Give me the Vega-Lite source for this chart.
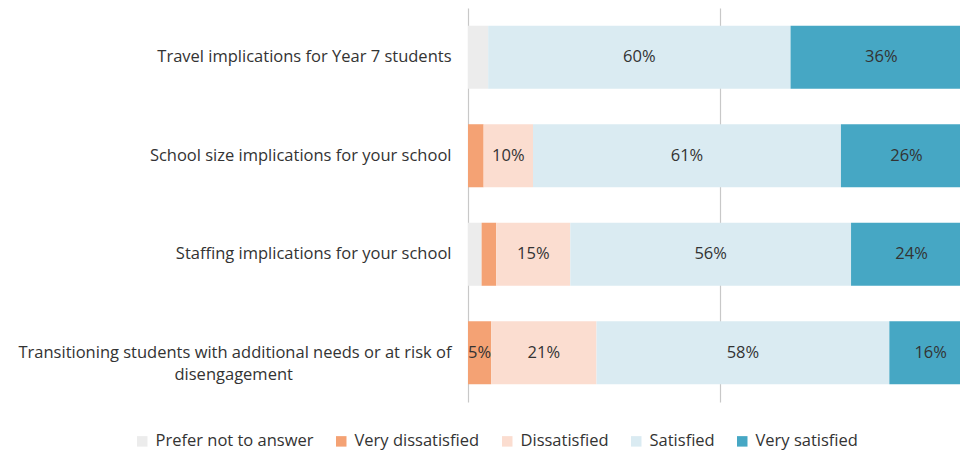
{
  "$schema": "https://vega.github.io/schema/vega-lite/v6.json",
  "autosize": "none",
  "width": 492,
  "height": 394,
  "padding": {"left": 468, "top": 8, "right": 0, "bottom": 51},
  "background": "white",
  "config": {
    "view": {"stroke": null},
    "font": "Open Sans",
    "text": {"font": "Open Sans"}
  },
  "data": {
    "values": [
      {"item": "Travel implications for Year 7 students", "response": "Prefer not to answer", "value": 0.04},
      {"item": "Travel implications for Year 7 students", "response": "Satisfied", "value": 0.60},
      {"item": "Travel implications for Year 7 students", "response": "Very satisfied", "value": 0.36},
      {"item": "School size implications for your school", "response": "Very dissatisfied", "value": 0.031},
      {"item": "School size implications for your school", "response": "Dissatisfied", "value": 0.098},
      {"item": "School size implications for your school", "response": "Satisfied", "value": 0.611},
      {"item": "School size implications for your school", "response": "Very satisfied", "value": 0.26},
      {"item": "Staffing implications for your school", "response": "Prefer not to answer", "value": 0.027},
      {"item": "Staffing implications for your school", "response": "Very dissatisfied", "value": 0.029},
      {"item": "Staffing implications for your school", "response": "Dissatisfied", "value": 0.147},
      {"item": "Staffing implications for your school", "response": "Satisfied", "value": 0.557},
      {"item": "Staffing implications for your school", "response": "Very satisfied", "value": 0.24},
      {"item": "Transitioning students with additional needs or at risk of disengagement", "response": "Very dissatisfied", "value": 0.046},
      {"item": "Transitioning students with additional needs or at risk of disengagement", "response": "Dissatisfied", "value": 0.209},
      {"item": "Transitioning students with additional needs or at risk of disengagement", "response": "Satisfied", "value": 0.581},
      {"item": "Transitioning students with additional needs or at risk of disengagement", "response": "Very satisfied", "value": 0.164}
    ]
  },
  "transform": [
    {"calculate": "indexof(['Prefer not to answer','Very dissatisfied','Dissatisfied','Satisfied','Very satisfied'], datum.response)", "as": "rank"},
    {"stack": "value", "groupby": ["item"], "sort": [{"field": "rank", "order": "ascending"}], "as": ["x0", "x1"]},
    {"calculate": "(datum.x0 + datum.x1) / 2", "as": "mid"}
  ],
  "encoding": {
    "y": {
      "field": "item",
      "type": "nominal",
      "sort": [
        "Travel implications for Year 7 students",
        "School size implications for your school",
        "Staffing implications for your school",
        "Transitioning students with additional needs or at risk of disengagement"
      ],
      "scale": {"paddingInner": 0.36, "paddingOuter": 0.18},
      "title": null,
      "axis": {
        "domain": false,
        "ticks": false,
        "grid": false,
        "labelPadding": 17,
        "labelFontSize": 16.5,
        "labelFont": "Open Sans",
        "labelColor": "#333333",
        "labelLimit": 0,
        "labelLineHeight": 22,
        "labelExpr": "indexof(datum.label, 'Transitioning') === 0 ? ['Transitioning students with additional needs or at risk of', pad('disengagement', 50, '\u00a0') + '\u200b'] : datum.label"
      }
    }
  },
  "layer": [
    {
      "mark": {"type": "bar", "clip": true},
      "encoding": {
        "x": {
          "field": "x0",
          "type": "quantitative",
          "scale": {"domain": [0, 0.97619], "nice": false, "zero": false},
          "title": null,
          "axis": {
            "values": [0, 0.5],
            "grid": true,
            "gridColor": "#c8c8c8",
            "gridWidth": 1.2,
            "labels": false,
            "ticks": false,
            "domain": false,
            "zindex": 0
          }
        },
        "x2": {"field": "x1"},
        "color": {
          "field": "response",
          "type": "nominal",
          "sort": ["Prefer not to answer", "Very dissatisfied", "Dissatisfied", "Satisfied", "Very satisfied"],
          "scale": {
            "domain": ["Prefer not to answer", "Very dissatisfied", "Dissatisfied", "Satisfied", "Very satisfied"],
            "range": ["#ececec", "#f4a274", "#fbddd0", "#daebf2", "#46a7c4"]
          },
          "legend": {
            "title": null,
            "orient": "none",
            "direction": "horizontal",
            "legendX": -334,
            "legendY": 425,
            "symbolType": "square",
            "symbolSize": 110,
            "symbolStrokeWidth": 0,
            "labelFontSize": 16.5,
            "labelFont": "Open Sans",
            "labelColor": "#333333",
            "labelOffset": 5,
            "columnPadding": 19,
            "labelLimit": 0
          }
        }
      }
    },
    {
      "transform": [{"filter": "datum.value >= 0.045"}],
      "mark": {"type": "text", "fontSize": 16.5, "font": "Open Sans", "color": "#333333"},
      "encoding": {
        "x": {"field": "mid", "type": "quantitative"},
        "text": {"field": "value", "type": "quantitative", "format": ".0%"}
      }
    }
  ]
}
